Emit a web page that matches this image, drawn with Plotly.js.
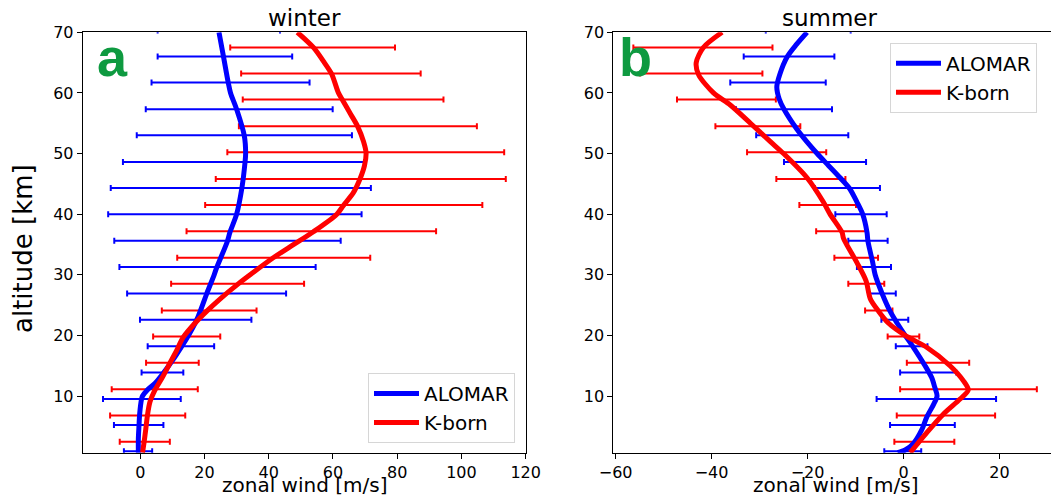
<!DOCTYPE html>
<html>
<head>
<meta charset="utf-8">
<script src="https://cdn.plot.ly/plotly-3.0.1.min.js"></script>
<style>
html, body { margin:0; padding:0; overflow:hidden; background:#fff; }
#chart { width:1058px; height:504px; }
</style>
</head>
<body>
<div id="chart"></div>
<script>
// ---------------- data ----------------
// error-bar altitudes [km]
const altBarsALOMAR = [0.9, 5.2, 9.5, 13.9, 18.2, 22.6, 26.9, 31.3, 35.6, 40.0, 44.3, 48.6, 53.0, 57.3, 61.7, 66.0, 70.3];
const altBarsKborn  = [2.45, 6.8, 11.1, 15.5, 19.8, 24.1, 28.5, 32.8, 37.2, 41.5, 45.8, 50.2, 54.5, 58.9, 63.2, 67.5];

// winter error bar ends [m/s]
const winterALOMARlo = [-5.1, -8.2, -11.6, 0.4, 2.3, -0.1, -4.1, -6.5, -8.1, -10.0, -9.2, -5.4, -1.1, 1.7, 3.5, 5.4, 5.4];
const winterALOMARhi = [3.7, 7.2, 12.6, 13.4, 23.0, 34.6, 45.4, 54.6, 62.4, 68.9, 71.8, 69.7, 65.9, 59.9, 52.7, 47.3, 43.5];
const winterKbornLo  = [-6.4, -9.4, -8.9, 1.8, 4.0, 6.7, 9.6, 11.5, 14.4, 20.2, 23.5, 27.1, 30.7, 31.9, 31.4, 28.0];
const winterKbornHi  = [9.2, 14.0, 17.9, 18.2, 24.9, 36.2, 51.0, 71.6, 92.1, 106.5, 113.8, 113.3, 104.8, 94.4, 87.3, 79.3];

// summer error bar ends [m/s]
const summerALOMARlo = [-4.0, -2.8, -5.6, -0.7, -1.6, -4.6, -7.3, -9.7, -11.5, -14.2, -18.5, -24.9, -30.7, -34.9, -36.1, -33.3, -28.7];
const summerALOMARhi = [3.7, 10.7, 19.3, 11.0, 5.0, 1.0, -1.6, -2.6, -3.3, -3.5, -4.9, -7.8, -11.5, -14.9, -16.2, -14.4, -11.0];
const summerKbornLo  = [-1.9, -1.4, -0.7, 0.7, -3.3, -8.0, -11.5, -14.4, -18.2, -21.7, -26.5, -32.6, -39.2, -47.2, -54.9, -56.3];
const summerKbornHi  = [10.6, 19.1, 27.8, 13.7, 3.3, -2.3, -4.0, -5.3, -7.6, -9.9, -12.1, -16.1, -21.5, -26.6, -29.4, -27.3];

// smooth mean profiles
const winterALOMARalt = [0.65, 3, 5.1, 7, 9.5, 10, 11, 12.1, 13.8, 16, 18.2, 20, 22.6, 26.9, 30, 31.2, 35.5, 37, 40, 44.2, 48.5, 50, 52.9, 57.3, 60, 61.65, 66, 70];
const winterALOMARval = [-0.6, -0.6, -0.4, -0.2, 0.4, 0.7, 2.2, 4.6, 7.2, 10.2, 12.9, 15.0, 17.6, 20.7, 23.0, 23.8, 27.1, 27.9, 30.0, 31.6, 32.6, 32.8, 32.4, 30.0, 28.1, 27.4, 25.9, 24.5];
const winterKbornAlt  = [0.65, 2.45, 4.5, 6.7, 9, 11, 13, 15.4, 17.5, 19.7, 22, 24, 26, 28.5, 30, 32.8, 35, 37.1, 40, 41.4, 43.5, 45.8, 48, 50.1, 52, 54.45, 56.5, 58.8, 60, 63.1, 65, 67.5, 70];
const winterKbornVal  = [0.7, 1.2, 1.7, 2.2, 3.0, 4.6, 6.8, 9.2, 11.3, 13.4, 17.0, 20.7, 24.8, 30.5, 34.2, 41.4, 47.8, 53.9, 61.2, 63.2, 66.3, 68.4, 69.8, 70.3, 69.5, 67.7, 65.5, 63.0, 61.7, 59.6, 57.3, 53.9, 48.9];

const summerALOMARalt = [0.65, 1.1, 2.2, 4.4, 6.6, 8.5, 10, 11.5, 13, 15, 18, 20, 22, 24, 27, 30, 32, 35.5, 37, 40, 42, 44.2, 46, 48, 50, 52, 54, 57.3, 59, 61, 63, 66, 68, 70];
const summerALOMARval = [-1.2, 0.35, 2.1, 3.8, 4.9, 6.2, 7.0, 6.5, 5.9, 4.5, 2.1, 0.35, -1.3, -2.8, -4.5, -5.9, -6.4, -7.4, -7.6, -8.5, -9.7, -11.2, -13.2, -15.6, -18.0, -20.2, -22.2, -24.9, -25.9, -26.4, -25.8, -24.2, -22.3, -20.1];
const summerKbornAlt  = [0.65, 2, 4, 7, 9.5, 11, 12.5, 15, 18, 20, 22, 24, 26, 29, 32, 36, 37, 40, 42, 46, 50, 52, 55, 58, 60, 63, 65, 67.5, 70];
const summerKbornVal  = [1.4, 2.8, 4.9, 8.3, 11.8, 13.5, 12.5, 9.7, 4.9, 0.35, -3.1, -5.2, -6.9, -7.8, -9.7, -12.5, -12.8, -15.3, -16.7, -20.1, -25.0, -27.8, -31.9, -36.1, -39.6, -42.7, -43.2, -41.7, -37.8];

// labels
const seriesNames = ['ALOMAR', 'K-born'];
const panelTitles = ['winter', 'summer'];
const panelLetters = ['a', 'b'];
const xTickVals1 = [0, 20, 40, 60, 80, 100, 120];
const xTickVals2 = [-60, -40, -20, 0, 20];
const yTickVals = [10, 20, 30, 40, 50, 60, 70];
const xLabel = 'zonal wind [m/s]';
const yLabel = 'altitude [km]';

// ---------------- figure ----------------
const W = 1058, H = 504;
const px = v => v / W;
const py = v => 1 - v / H;
const FONT = 'DejaVu Sans, Verdana, sans-serif';
const BLUE = '#0000ff', RED = '#ff0000';

function barTrace(alt, lo, hi, color, xa, ya) {
  const mid = lo.map((l, i) => (l + hi[i]) / 2);
  const half = lo.map((l, i) => (hi[i] - l) / 2);
  return {
    type: 'scatter', mode: 'markers', x: mid, y: alt, xaxis: xa, yaxis: ya,
    marker: { size: 1, color: 'rgba(0,0,0,0)' },
    error_x: { type: 'data', array: half, symmetric: true, color: color, thickness: 2, width: 3 },
    showlegend: false, hoverinfo: 'skip'
  };
}
function lineTrace(alt, val, color, name, xa, ya, leg) {
  return {
    type: 'scatter', mode: 'lines', x: val, y: alt, xaxis: xa, yaxis: ya,
    line: { color: color, width: 5, shape: 'spline', smoothing: 0.8 },
    name: name, legend: leg, showlegend: true, hoverinfo: 'skip'
  };
}

const data = [
  barTrace(altBarsALOMAR, winterALOMARlo, winterALOMARhi, BLUE, 'x', 'y'),
  barTrace(altBarsKborn, winterKbornLo, winterKbornHi, RED, 'x', 'y'),
  lineTrace(winterALOMARalt, winterALOMARval, BLUE, seriesNames[0], 'x', 'y', 'legend'),
  lineTrace(winterKbornAlt, winterKbornVal, RED, seriesNames[1], 'x', 'y', 'legend'),
  barTrace(altBarsALOMAR, summerALOMARlo, summerALOMARhi, BLUE, 'x2', 'y2'),
  barTrace(altBarsKborn, summerKbornLo, summerKbornHi, RED, 'x2', 'y2'),
  lineTrace(summerALOMARalt, summerALOMARval, BLUE, seriesNames[0], 'x2', 'y2', 'legend2'),
  lineTrace(summerKbornAlt, summerKbornVal, RED, seriesNames[1], 'x2', 'y2', 'legend2')
];

const axisCommon = {
  showgrid: false, zeroline: false, showline: true, mirror: true,
  linecolor: '#000', linewidth: 1, ticks: 'outside', ticklen: 5, tickwidth: 1, tickcolor: '#000',
  tickfont: { family: FONT, size: 16, color: '#000' }, fixedrange: true
};
const yDomain = [1 - 452.7 / H, 1 - 32.3 / H];

const legendCommon = {
  font: { family: FONT, size: 20, color: '#000' },
  bgcolor: 'rgba(255,255,255,0.9)', bordercolor: '#d6d6d6', borderwidth: 1,
  itemwidth: 45, tracegroupgap: 0
};

const annFont = (s, extra) => Object.assign({ family: FONT, size: s, color: '#000' }, extra || {});
const annotations = [
  { text: panelTitles[0], x: px(304), y: py(18.5), xref: 'paper', yref: 'paper', showarrow: false, xanchor: 'center', yanchor: 'middle', font: annFont(23) },
  { text: panelTitles[1], x: px(830), y: py(18.5), xref: 'paper', yref: 'paper', showarrow: false, xanchor: 'center', yanchor: 'middle', font: annFont(23) },
  { text: xLabel, x: px(304), y: py(485), xref: 'paper', yref: 'paper', showarrow: false, xanchor: 'center', yanchor: 'middle', font: annFont(20) },
  { text: xLabel, x: px(835), y: py(485), xref: 'paper', yref: 'paper', showarrow: false, xanchor: 'center', yanchor: 'middle', font: annFont(20) },
  { text: yLabel, x: px(23), y: py(249), xref: 'paper', yref: 'paper', showarrow: false, xanchor: 'center', yanchor: 'middle', textangle: -90, font: annFont(26) },
  { text: '<b>' + panelLetters[0] + '</b>', x: px(95), y: py(57), xref: 'paper', yref: 'paper', showarrow: false, xanchor: 'left', yanchor: 'middle', font: { family: 'Liberation Sans, Arial, sans-serif', size: 54, color: '#0e9a40' } },
  { text: '<b>' + panelLetters[1] + '</b>', x: px(617), y: py(57), xref: 'paper', yref: 'paper', showarrow: false, xanchor: 'left', yanchor: 'middle', font: { family: 'Liberation Sans, Arial, sans-serif', size: 54, color: '#0e9a40' } }
];

const layout = {
  width: W, height: H,
  margin: { l: 0, r: 0, t: 0, b: 0 },
  paper_bgcolor: '#fff', plot_bgcolor: '#fff',
  font: { family: FONT, color: '#000' },
  xaxis: Object.assign({}, axisCommon, { domain: [px(82.7), px(525.7)], range: [-17.93, 120], tickvals: xTickVals1, anchor: 'y' }),
  yaxis: Object.assign({}, axisCommon, { domain: yDomain, range: [0.65, 70], tickvals: yTickVals, anchor: 'x' }),
  xaxis2: Object.assign({}, axisCommon, { domain: [px(613.3), px(1057)], range: [-60.48, 32], tickvals: xTickVals2, anchor: 'y2' }),
  yaxis2: Object.assign({}, axisCommon, { domain: yDomain, range: [0.65, 70], tickvals: yTickVals, anchor: 'x2' }),
  legend: Object.assign({}, legendCommon, { x: px(515), y: py(443), xanchor: 'right', yanchor: 'bottom' }),
  legend2: Object.assign({}, legendCommon, { x: px(1037), y: py(42.7), xanchor: 'right', yanchor: 'top' }),
  annotations: annotations,
  showlegend: true
};

Plotly.newPlot('chart', data, layout, { displayModeBar: false, staticPlot: true });
</script>
</body>
</html>
